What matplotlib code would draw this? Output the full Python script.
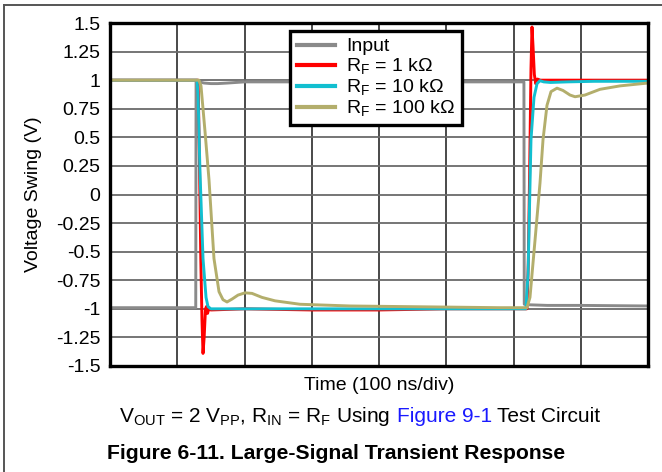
import matplotlib
matplotlib.use("Agg")
import matplotlib.pyplot as plt
from matplotlib.lines import Line2D

plt.rcParams['font.family'] = ['Liberation Sans', 'DejaVu Sans']
plt.rcParams['mathtext.fontset'] = 'custom'
plt.rcParams['mathtext.rm'] = 'Liberation Sans'
plt.rcParams['mathtext.it'] = 'Liberation Sans:italic'
plt.rcParams['mathtext.bf'] = 'Liberation Sans:bold'

# ---------------- data (time in ns, voltage in V) ----------------
input_t = [0, 127.5, 128.0, 132, 140, 150, 160, 175, 200, 300, 400, 500, 615.5, 616.0, 625, 650, 700, 800]
input_v = [-0.99, -0.99, 0.99, 0.985, 0.975, 0.97, 0.97, 0.975, 0.985, 0.985, 0.985, 0.985, 0.985, -0.96, -0.965, -0.97, -0.97, -0.975]

rf1k_t = [0, 131, 133, 135, 136.8, 138.3, 140, 142, 143.5, 145, 147, 150, 200, 300, 400, 500, 600,
          620, 622, 624, 626, 627.5, 629, 631, 633, 635.5, 640, 650, 700, 800]
rf1k_v = [1.0, 1.0, 0.3, -0.56, -1.1, -1.39, -1.25, -1.0, -0.98, -1.04, -1.0, -1.01, -1.0, -1.01, -1.01, -1.0, -1.0,
          -1.0, -0.6, 0.2, 1.1, 1.465, 1.3, 1.05, 0.97, 1.01, 1.0, 1.0, 1.0, 1.0]

rf10k_t = [0, 129.5, 131, 133.8, 138.3, 142.8, 145.7, 150, 160, 300, 500, 618.5, 621.6, 626, 630.5, 635, 639.4, 645, 655, 680, 720, 800]
rf10k_v = [1.0, 1.0, 0.85, 0.2, -0.56, -0.9, -0.98, -1.0, -1.0, -1.0, -1.0, -1.0, -0.7, 0.48, 0.85, 0.97, 0.995, 0.985, 0.98, 0.985, 0.99, 0.99]

rf100k_t = [0, 132.3, 135.3, 141.3, 147.2, 154.6, 162.1, 168, 174, 181.4, 190.3, 200.7, 211.2, 226, 245.4, 282.5, 357, 431, 505.6, 580, 620,
            624.5, 632, 639.4, 643.9, 649.8, 655.8, 664.7, 673.6, 684, 691.5, 706.3, 728.6, 758.4, 800]
rf100k_v = [1.0, 1.0, 0.95, 0.55, 0.13, -0.56, -0.85, -0.92, -0.94, -0.915, -0.88, -0.86, -0.865, -0.9, -0.93, -0.96, -0.975, -0.98, -0.985, -0.99, -0.99,
            -0.9, -0.4, 0.1, 0.48, 0.78, 0.9, 0.93, 0.91, 0.87, 0.855, 0.87, 0.92, 0.95, 0.975]

series_labels = ['Input', r'R$_\mathrm{F}$ = 1 k$\Omega$', r'R$_\mathrm{F}$ = 10 k$\Omega$', r'R$_\mathrm{F}$ = 100 k$\Omega$']
series_colors = ['#8a8a8a', '#ff0000', '#12bfd0', '#b3ae6c']

x_ticks = [0, 100, 200, 300, 400, 500, 600, 700, 800]
y_ticks = [1.5, 1.25, 1.0, 0.75, 0.5, 0.25, 0.0, -0.25, -0.5, -0.75, -1.0, -1.25, -1.5]
y_tick_labels = ['1.5', '1.25', '1', '0.75', '0.5', '0.25', '0', '-0.25', '-0.5', '-0.75', '-1', '-1.25', '-1.5']

# ---------------- figure ----------------
W, H = 662, 472
fig = plt.figure(figsize=(W / 100, H / 100), dpi=100)
fig.patch.set_facecolor('white')

# outer frame lines (left and top)
fig.add_artist(Line2D([3.5 / W, 3.5 / W], [0, 1 - 5 / H], transform=fig.transFigure, color='#555555', lw=1.4))
fig.add_artist(Line2D([3.5 / W, 1], [1 - 5 / H, 1 - 5 / H], transform=fig.transFigure, color='#555555', lw=1.4))

ax = fig.add_axes([110 / W, 1 - 366 / H, 538 / W, 343 / H])
ax.set_xlim(0, 800)
ax.set_ylim(-1.5, 1.5)
ax.set_xticks(x_ticks)
ax.set_xticklabels([])
ax.set_yticks(y_ticks)
ax.set_yticklabels(y_tick_labels)
ax.tick_params(length=0, labelsize=14, pad=7)
ax.xaxis.grid(True, color='#2a2a2a', lw=1.2)
ax.yaxis.grid(True, color='#6a6a6a', lw=1.3)
ax.set_axisbelow(True)
for s in ax.spines.values():
    s.set_linewidth(2.4)
    s.set_color('black')

all_t = [input_t, rf1k_t, rf10k_t, rf100k_t]
all_v = [input_v, rf1k_v, rf10k_v, rf100k_v]
handles = []
for t, v, c, lab in zip(all_t, all_v, series_colors, series_labels):
    h, = ax.plot(t, v, color=c, lw=2.1, label=lab, solid_joinstyle='round')
    handles.append(h)

leg = ax.legend(handles=handles, loc='upper left', bbox_to_anchor=(290 / W, 1 - 31 / H),
                bbox_transform=fig.transFigure, fontsize=14, frameon=True, fancybox=False,
                framealpha=1, edgecolor='black', borderpad=0.35, labelspacing=0.05,
                handlelength=1.95, handletextpad=0.6, borderaxespad=0)
leg.get_frame().set_linewidth(2.4)
for lh in leg.get_lines():
    lh.set_linewidth(3)

ax.set_ylabel('Voltage Swing (V)', fontsize=14, va='center')
ax.yaxis.set_label_coords((34 - 110) / 538, 0.5)
ax.set_xlabel('Time (100 ns/div)', fontsize=14, va='center')
ax.xaxis.set_label_coords(0.5, (366 - 386) / 343)

# caption with a blue link part
cap_y = 1 - 422 / H
parts = [(r'V$_\mathrm{OUT}$ = 2 V$_\mathrm{PP}$, R$_\mathrm{IN}$ = R$_\mathrm{F}$ Using', 'black'),
         ('Figure 9-1', '#1a1aff'),
         ('Test Circuit', 'black')]
renderer = fig.canvas.get_renderer()
sp1 = fig.text(0, 0, 'a a', fontsize=15)
sp2 = fig.text(0, 0, 'aa', fontsize=15)
space_w = sp1.get_window_extent(renderer).width - sp2.get_window_extent(renderer).width
sp1.remove(); sp2.remove()
texts = []
widths = []
for s, c in parts:
    tt = fig.text(0, cap_y, s, fontsize=15, color=c, ha='left', va='baseline')
    texts.append(tt)
    widths.append(tt.get_window_extent(renderer).width)
total = sum(widths) + space_w * (len(parts) - 1)
x = 360 - total / 2
for tt, w in zip(texts, widths):
    tt.set_x(x / W)
    x += w + space_w

fig.text(336 / W, 1 - 459 / H, 'Figure 6-11. Large-Signal Transient Response', fontsize=15.2,
         fontweight='bold', ha='center', va='baseline')

fig.savefig('out.png', dpi=100)
